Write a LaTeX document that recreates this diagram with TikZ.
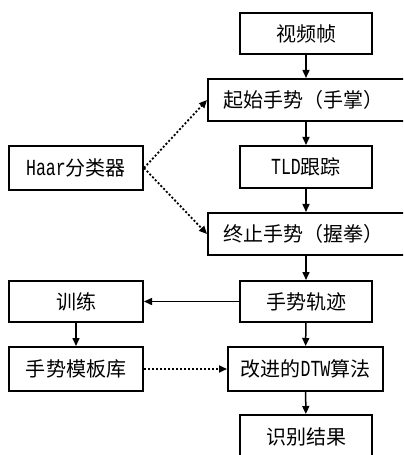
\documentclass[tikz,border=0pt]{standalone}
\usepackage{fontspec}
\setmainfont{Noto Sans CJK SC}
\newfontfamily\latf{Liberation Mono}[Scale=1.15, FakeStretch=0.72]
\usetikzlibrary{arrows.meta}
\begin{document}
\begin{tikzpicture}[x=1bp,y=-1bp,
  box/.style={draw, line width=2bp, inner sep=0pt, font=\fontsize{20bp}{24bp}\selectfont, minimum height=42bp},
  wide/.style={box, anchor=west, text width=190bp, align=left, inner xsep=15bp},
  arr/.style={line width=1.5bp, -{Triangle[length=8bp,width=7bp]}},
  darr/.style={line width=1.8bp, dash pattern=on 2bp off 2bp, -{Triangle[length=8bp,width=7bp]}}]
\useasboundingbox (0,0) rectangle (403,455);
\clip (0,0) rectangle (403,455);
\node[box, minimum width=132bp, minimum height=41bp] (vf) at (306,33.5) {视频帧};
\node[wide] (qs) at (207,100) {起始手势（手掌）};
\node[box, minimum width=132bp] (tld) at (306,167) {{\latf TLD}跟踪};
\node[box, minimum width=134bp, minimum height=44bp] (haar) at (76,168) {{\latf Haar}分类器};
\node[wide] (zz) at (207,234) {终止手势（握拳）};
\node[box, minimum width=132bp, minimum height=41bp] (gj) at (306,301.5) {手势轨迹};
\node[box, minimum width=134bp, minimum height=41bp] (xl) at (76,301.5) {训练};
\node[box, minimum width=134bp, minimum height=44bp] (mb) at (76,369) {手势模板库};
\node[box, minimum width=155bp, minimum height=44bp] (dtw) at (305.5,369) {改进的{\latf DTW}算法};
\node[box, minimum width=132bp, minimum height=44bp] (jg) at (306,437) {识别结果};
\draw[arr] (vf) -- (vf.south |- qs.north);
\draw[arr] (vf.south |- qs.south) -- (tld);
\draw[arr] (tld) -- (tld.south |- zz.north);
\draw[arr] (tld.south |- zz.south) -- (gj);
\draw[arr] (gj) -- (xl);
\draw[arr] (xl) -- (mb);
\draw[arr] (gj) -- (dtw);
\draw[arr] (dtw) -- (jg);
\draw[darr] (haar.east) -- (qs.west);
\draw[darr] (haar.east) -- (zz.west);
\draw[darr] (mb) -- (dtw);
\end{tikzpicture}
\end{document}
